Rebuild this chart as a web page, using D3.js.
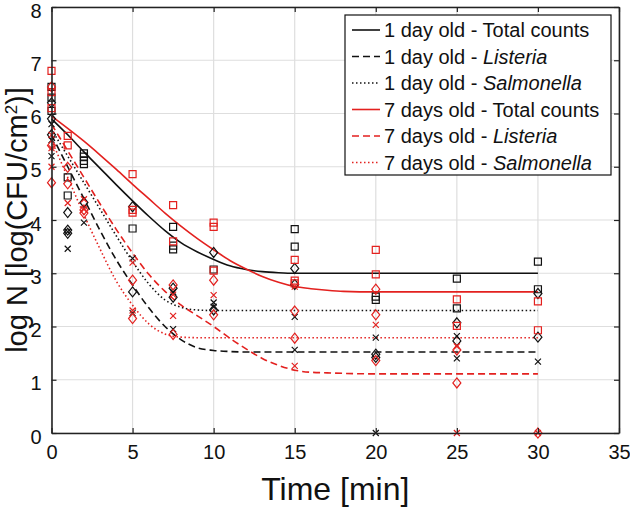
<!DOCTYPE html>
<html><head><meta charset="utf-8">
<script src="https://cdn.jsdelivr.net/npm/d3@7"></script>
<style>body{margin:0;background:#fff}svg{display:block}</style>
</head><body><svg id="c" width="630" height="507"></svg>
<script>
// ---------- data ----------
const xTicks = [0,5,10,15,20,25,30,35];
const yTicks = [0,1,2,3,4,5,6,7,8];

// measured points [time, logN]
const tot1Pts = [[0,6.5],[0,6.3],[0,6.05],[1,4.80],[1,4.46],[2,5.25],[2,5.19],[2,5.11],[2,5.05],[5,3.84],[7.5,3.87],[7.5,3.52],[7.5,3.45],[10,3.07],[15,3.83],[15,3.50],[20,2.56],[20,2.50],[25,2.90],[25,2.34],[30,3.22],[30,2.70]];
const lis1Pts = [[0,5.8],[0,5.5],[0,5.2],[1,3.78],[1,3.46],[2,3.95],[5,3.28],[5,2.25],[7.5,2.65],[7.5,1.95],[10,2.45],[10,2.37],[15,2.18],[15,1.56],[20,1.79],[20,0],[25,1.82],[25,1.40],[30,1.34]];
const sal1Pts = [[0,6.2],[0,5.9],[0,5.6],[1,4.14],[1,3.81],[1,3.75],[2,4.33],[5,4.25],[5,2.65],[7.5,2.72],[7.5,2.55],[10,3.39],[10,2.31],[15,3.09],[15,2.79],[20,1.48],[20,1.42],[25,2.07],[25,1.73],[30,2.62],[30,1.80]];
const tot7Pts = [[0,6.8],[0,6.4],[0,6.1],[1,5.58],[1,5.40],[5,4.86],[5,4.19],[5,4.14],[7.5,4.28],[7.5,3.6],[10,3.95],[10,3.87],[10,3.05],[15,3.25],[15,2.86],[15,2.81],[20,3.44],[20,2.98],[25,2.51],[25,2.01],[30,2.47],[30,1.93]];
const lis7Pts = [[0,5.6],[0,5.35],[0,5.0],[1,4.32],[2,4.39],[2,4.2],[5,3.20],[5,2.3],[7.5,2.6],[7.5,2.2],[10,2.59],[15,2.75],[15,1.26],[20,2.03],[25,1.63],[25,0],[30,0]];
const sal7Pts = [[0,6.5],[0,5.4],[0,4.7],[1,4.99],[1,4.68],[2,4.19],[2,4.13],[5,2.87],[5,2.15],[7.5,2.78],[7.5,1.85],[10,2.87],[10,2.22],[15,2.29],[15,1.78],[20,2.70],[20,2.22],[20,1.36],[25,1.56],[25,0.94],[30,0]];

// fitted curves
const curveT = [0,1,2,3,4,5,6,7,8,9,10,11,12,13,14,15,16,17,18,20,25,30];
const tot1Fit = [5.9,5.6,5.28,4.97,4.66,4.36,4.07,3.8,3.57,3.4,3.26,3.14,3.07,3.03,3.01,3.0,3.0,3.0,3.0,3.0,3.0,3.0];
const lis1Fit = [5.6,5.0,4.4,3.8,3.25,2.78,2.35,2.0,1.75,1.6,1.55,1.53,1.52,1.52,1.52,1.52,1.52,1.52,1.52,1.52,1.52,1.52];
const sal1Fit = [5.7,5.2,4.7,4.2,3.7,3.22,2.8,2.5,2.36,2.31,2.30,2.30,2.30,2.30,2.30,2.30,2.30,2.30,2.30,2.30,2.30,2.30];
const tot7Fit = [5.95,5.72,5.48,5.22,4.95,4.67,4.40,4.13,3.88,3.65,3.44,3.24,3.08,2.94,2.83,2.75,2.71,2.68,2.66,2.65,2.65,2.65];
const lis7Fit = [5.8,5.3,4.8,4.3,3.82,3.38,2.98,2.66,2.4,2.2,2.0,1.78,1.58,1.4,1.27,1.18,1.14,1.13,1.12,1.11,1.11,1.11];
const sal7Fit = [5.5,4.8,4.1,3.45,2.85,2.4,2.05,1.86,1.8,1.79,1.79,1.79,1.79,1.79,1.79,1.79,1.79,1.79,1.79,1.79,1.79,1.79];

const legendLabels = [
  ["1 day old - ", "Total counts", false],
  ["1 day old - ", "Listeria", true],
  ["1 day old - ", "Salmonella", true],
  ["7 days old - ", "Total counts", false],
  ["7 days old - ", "Listeria", true],
  ["7 days old - ", "Salmonella", true]
];

// ---------- styling ----------
const RED = "#e3211f", BLK = "#111";
const series = [
  {pts: tot1Pts, fit: tot1Fit, color: BLK, dash: null, marker: "square"},
  {pts: lis1Pts, fit: lis1Fit, color: BLK, dash: "7,4", marker: "x"},
  {pts: sal1Pts, fit: sal1Fit, color: BLK, dash: "1.5,2.5", marker: "diamond"},
  {pts: tot7Pts, fit: tot7Fit, color: RED, dash: null, marker: "square"},
  {pts: lis7Pts, fit: lis7Fit, color: RED, dash: "7,4", marker: "x"},
  {pts: sal7Pts, fit: sal7Fit, color: RED, dash: "1.5,2.5", marker: "diamond"}
];
const FONT = "'Liberation Sans', Arial, Helvetica, sans-serif";

const svg = d3.select("#c");
const L = 51.5, R = 619, T = 7, B = 433;
const x = d3.scaleLinear().domain([0,35]).range([L,R]);
const y = d3.scaleLinear().domain([0,8]).range([B,T]);

// grid
const g = svg.append("g");
g.selectAll(".gx").data(xTicks).join("line")
  .attr("x1", d=>x(d)).attr("x2", d=>x(d)).attr("y1", T).attr("y2", B)
  .attr("stroke", "#dedede").attr("stroke-width", 1.2);
g.selectAll(".gy").data(yTicks).join("line")
  .attr("y1", d=>y(d)).attr("y2", d=>y(d)).attr("x1", L).attr("x2", R)
  .attr("stroke", "#dedede").attr("stroke-width", 1.2);

// fitted curves
const line = d3.line().x((d,i)=>x(curveT[i])).y(d=>y(d)).curve(d3.curveMonotoneX);
series.forEach(s=>{
  svg.append("path").attr("d", line(s.fit)).attr("fill","none")
    .attr("stroke", s.color).attr("stroke-width", 1.6)
    .attr("stroke-dasharray", s.dash);
});

// markers
function markerPath(type){
  if(type==="square") return "M-3.5,-3.5H3.5V3.5H-3.5Z";
  if(type==="diamond") return "M0,-5L4,0L0,5L-4,0Z";
  return "M-3,-3L3,3M-3,3L3,-3";
}
series.forEach(s=>{
  svg.append("g").selectAll("path").data(s.pts).join("path")
    .attr("transform", d=>`translate(${x(d[0])},${y(d[1])})`)
    .attr("d", markerPath(s.marker))
    .attr("fill","none").attr("stroke", s.color).attr("stroke-width", 1.2);
});

// axes
const ax = svg.append("g").attr("font-family", FONT);
const xAxB = d3.axisBottom(x).tickValues(xTicks).tickSizeInner(-5).tickSizeOuter(0).tickPadding(12);
const xAxT = d3.axisTop(x).tickValues(xTicks).tickSizeInner(-5).tickSizeOuter(0).tickFormat("");
const yAxL = d3.axisLeft(y).tickValues(yTicks).tickSizeInner(-5).tickSizeOuter(0).tickPadding(10);
const yAxR = d3.axisRight(y).tickValues(yTicks).tickSizeInner(-5).tickSizeOuter(0).tickFormat("");
[ [xAxB, `translate(0,${B})`], [xAxT, `translate(0,${T})`], [yAxL, `translate(${L},0)`], [yAxR, `translate(${R},0)`] ]
 .forEach(([a,tr], k)=>{
   const gg = ax.append("g").attr("transform", tr).call(a);
   gg.selectAll("path").attr("stroke", "#222").attr("stroke-width", 1.6);
   gg.selectAll("line").attr("stroke", "#222").attr("stroke-width", 1.2);
   gg.selectAll("text").attr("font-size", 20).attr("font-family", FONT).attr("fill", "#111");
   if(k===2) gg.selectAll("text").attr("dy", "0.5em");
 });

// axis labels
svg.append("text").attr("x", (L+R)/2).attr("y", 500).attr("text-anchor","middle")
  .attr("font-family", FONT).attr("font-size", 32).attr("fill","#111").text("Time [min]");
const yl = svg.append("text").attr("transform", `translate(27,${(T+B)/2}) rotate(-90)`)
  .attr("text-anchor","middle").attr("font-family", FONT).attr("font-size", 29).attr("fill","#111");
yl.append("tspan").text("log N [log(CFU/cm");
yl.append("tspan").attr("font-size", 17).attr("dy", -10).text("2");
yl.append("tspan").attr("dy", 10).text(")]");

// legend
const lg = svg.append("g").attr("font-family", FONT);
const lx = 345, ly = 15, lw = 611 - 345, lh = 160;
lg.append("rect").attr("x", lx).attr("y", ly).attr("width", lw).attr("height", lh)
  .attr("fill","#fff").attr("stroke","#111").attr("stroke-width", 1.2);
series.forEach((s,i)=>{
  const cy = 30 + i*26.5;
  lg.append("line").attr("x1", lx+7).attr("x2", lx+35).attr("y1", cy).attr("y2", cy)
    .attr("stroke", s.color).attr("stroke-width", 1.6).attr("stroke-dasharray", s.dash);
  const t = lg.append("text").attr("x", 384).attr("y", cy + 7).attr("font-size", 20).attr("fill","#111");
  t.append("tspan").text(legendLabels[i][0]);
  t.append("tspan").attr("font-style", legendLabels[i][2] ? "italic" : "normal").text(legendLabels[i][1]);
});
</script></body></html>
